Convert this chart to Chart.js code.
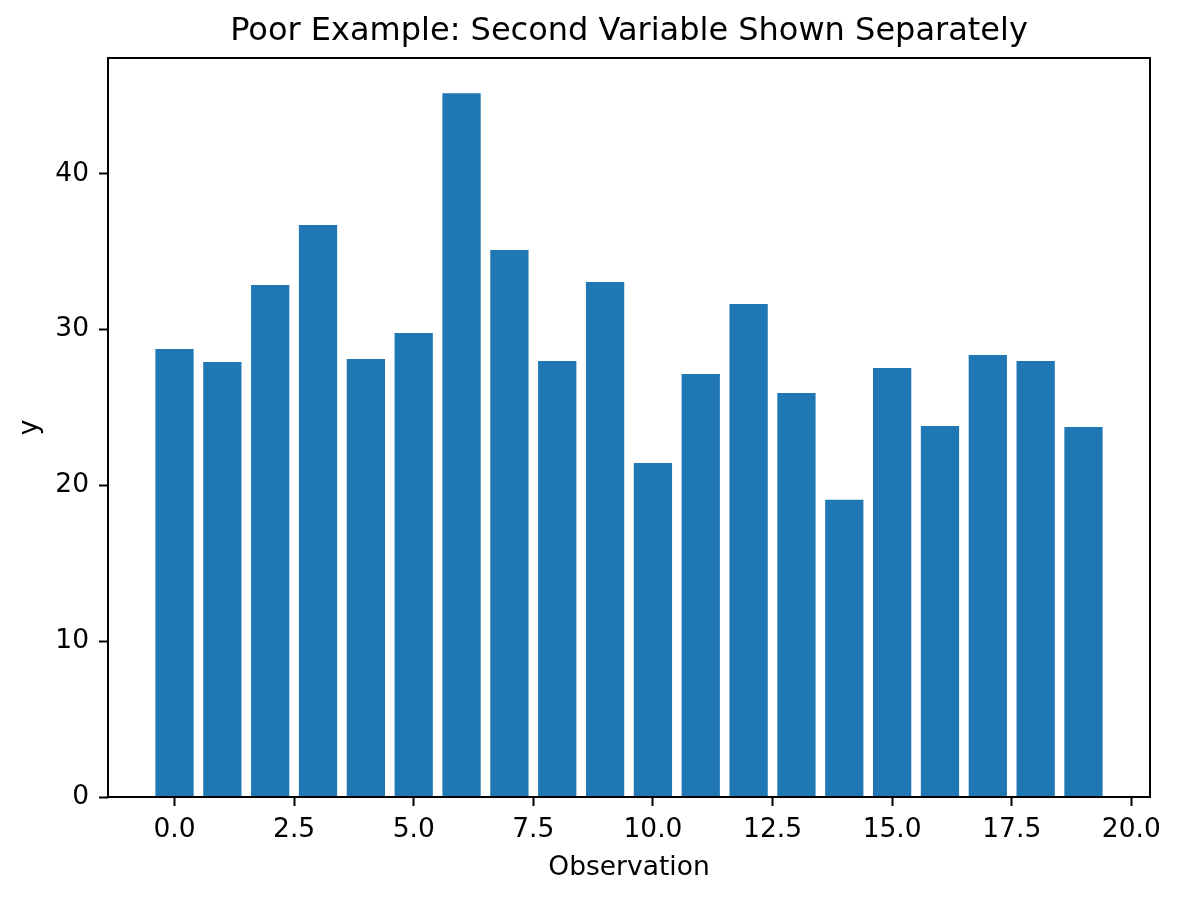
<!DOCTYPE html>
<html>
<head>
<meta charset="utf-8">
<script src="https://cdn.jsdelivr.net/npm/chart.js@4"></script>
<style>
  html, body { margin: 0; padding: 0; background: #fff; }
  #wrap { width: 1180px; height: 898px; }
</style>
</head>
<body>
<div id="wrap"><canvas id="barChart" width="1180" height="898"></canvas></div>
<script>
const observations = [0, 1, 2, 3, 4, 5, 6, 7, 8, 9, 10, 11, 12, 13, 14, 15, 16, 17, 18, 19];
const yValues = [28.75, 27.92, 32.85, 36.70, 28.11, 29.78, 45.16, 35.10, 27.98, 33.04,
                 21.44, 27.15, 31.63, 25.93, 19.07, 27.53, 23.81, 28.37, 27.98, 23.75];
const xTickValues = [0, 2.5, 5, 7.5, 10, 12.5, 15, 17.5, 20];
const yTickValues = [0, 10, 20, 30, 40];

Chart.defaults.font.family = "'DejaVu Sans', sans-serif";
Chart.defaults.color = '#000';

// matplotlib style box around the plot area
const framePlugin = {
    id: 'frame',
    afterDraw(chart) {
        const { ctx, chartArea } = chart;
        ctx.save();
        ctx.strokeStyle = '#000';
        ctx.lineWidth = 2;
        ctx.strokeRect(chartArea.left, chartArea.top, chartArea.right - chartArea.left, chartArea.bottom - chartArea.top);
        ctx.restore();
    }
};

const ctx = document.getElementById('barChart').getContext('2d');
const barChart = new Chart(ctx, {
    type: 'bar',
    data: {
        datasets: [{
            label: 'y',
            data: observations.map((x, i) => ({ x: x, y: yValues[i] })),
            backgroundColor: '#1f77b4',
            borderWidth: 0,
            categoryPercentage: 1,
            barPercentage: 0.8
        }]
    },
    options: {
        responsive: false,
        animation: false,
        devicePixelRatio: 1,
        layout: {
            padding: { left: 0, right: 30, top: 0, bottom: 0 }
        },
        plugins: {
            legend: { display: false },
            tooltip: { enabled: false },
            title: {
                display: true,
                text: 'Poor Example: Second Variable Shown Separately',
                fullSize: false,
                font: { size: 32, weight: 'normal' },
                padding: { top: 12, bottom: 7.6 }
            }
        },
        scales: {
            x: {
                type: 'linear',
                min: -1.39,
                max: 20.39,
                offset: false,
                afterBuildTicks: (scale) => {
                    scale.ticks = xTickValues.map(v => ({ value: v }));
                },
                afterFit: (scale) => { scale.height = 101; },
                grid: {
                    offset: false,
                    drawOnChartArea: false,
                    drawTicks: true,
                    tickLength: 9,
                    tickWidth: 2,
                    tickColor: '#000'
                },
                border: { display: false },
                ticks: {
                    padding: 8,
                    maxRotation: 0,
                    font: { size: 26.5 },
                    callback: (v) => Number(v).toFixed(1)
                },
                title: {
                    display: true,
                    text: 'Observation',
                    font: { size: 26.5 },
                    padding: { top: 0, bottom: 14 }
                }
            },
            y: {
                min: 0,
                max: 47.42,
                afterBuildTicks: (scale) => {
                    scale.ticks = yTickValues.map(v => ({ value: v }));
                },
                afterFit: (scale) => { scale.width = 108; },
                grid: {
                    drawOnChartArea: false,
                    drawTicks: true,
                    tickLength: 9,
                    tickWidth: 2,
                    tickColor: '#000'
                },
                border: { display: false },
                ticks: {
                    padding: 10,
                    font: { size: 26.5 },
                    callback: (v) => v
                },
                title: {
                    display: true,
                    text: 'y',
                    font: { size: 26.5 },
                    padding: { top: 14, bottom: 0 }
                }
            }
        }
    },
    plugins: [framePlugin]
});
</script>
</body>
</html>
